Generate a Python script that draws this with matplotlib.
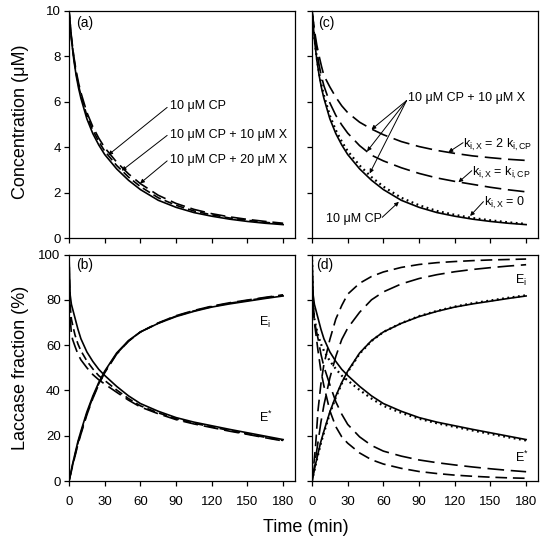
import matplotlib
matplotlib.use("Agg")
import matplotlib.pyplot as plt

plt.rcParams['font.family'] = ['Liberation Sans', 'DejaVu Sans']
plt.rcParams['mathtext.fontset'] = 'custom'
plt.rcParams['mathtext.rm'] = 'Liberation Sans'
plt.rcParams['mathtext.it'] = 'Liberation Sans:italic'

# ---------------- data ----------------
T_CONC = [0, 2, 4, 6, 8, 10, 15, 20, 25, 30, 40, 50, 60, 75, 90, 105, 120, 135, 150, 165, 180]
CP_ONLY = [10, 8.75, 7.85, 7.15, 6.6, 6.15, 5.25, 4.6, 4.1, 3.68, 3.05, 2.55, 2.14, 1.67, 1.36, 1.13, 0.97, 0.84, 0.74, 0.66, 0.6]
CP_X10 = [10, 8.8, 7.93, 7.25, 6.72, 6.28, 5.39, 4.75, 4.25, 3.83, 3.2, 2.69, 2.27, 1.78, 1.45, 1.2, 1.03, 0.89, 0.79, 0.7, 0.63]
CP_X20 = [10, 8.85, 8.0, 7.35, 6.83, 6.4, 5.53, 4.9, 4.4, 3.98, 3.35, 2.83, 2.4, 1.89, 1.53, 1.27, 1.08, 0.94, 0.83, 0.74, 0.66]
CP_K_EQ = [10, 9.0, 8.25, 7.6, 7.1, 6.7, 5.95, 5.4, 4.98, 4.62, 4.07, 3.65, 3.4, 3.1, 2.85, 2.65, 2.5, 2.37, 2.24, 2.13, 2.04]
CP_K_2X = [10, 9.15, 8.5, 8.0, 7.55, 7.15, 6.65, 6.2, 5.82, 5.52, 5.1, 4.8, 4.55, 4.25, 4.03, 3.86, 3.73, 3.62, 3.54, 3.47, 3.42]

T_FRAC = [0, 0.5, 1, 2, 3, 5, 7.5, 10, 15, 20, 25, 30, 40, 50, 60, 75, 90, 105, 120, 135, 150, 165, 180]
ESTAR_CP = [100, 88, 82, 78, 76, 72, 67, 62.8, 57, 52.8, 49.3, 46.6, 41.8, 37.6, 34.2, 30.8, 28, 26, 24.4, 22.8, 21.3, 19.8, 18.3]
ESTAR_X10 = [100, 85, 77, 71.5, 69, 64.5, 60.5, 57.5, 53, 49.5, 46.5, 44.4, 40.2, 36.4, 33.2, 30.1, 27.5, 25.5, 23.9, 22.3, 20.8, 19.3, 17.9]
ESTAR_X20 = [100, 82, 72, 65, 62.5, 59.5, 56, 53.5, 50, 47, 44.7, 42.8, 39.2, 35.7, 32.7, 29.7, 27.1, 25.2, 23.6, 22.0, 20.6, 19.1, 17.7]
EI_CP = [0, 1.3, 2.6, 5, 7.5, 12, 17.5, 22, 30.5, 37.5, 43.5, 48.5, 56.5, 62, 65.8, 69.6, 72.6, 74.9, 76.8, 78.2, 79.4, 80.6, 81.7]
EI_X10 = [0, 1.2, 2.4, 4.7, 7.1, 11.4, 16.8, 21.3, 29.8, 36.9, 43, 48.1, 56.2, 61.8, 65.8, 69.7, 72.8, 75.1, 77.0, 78.5, 79.7, 80.9, 82.0]
EI_X20 = [0, 1.1, 2.2, 4.4, 6.7, 10.9, 16.2, 20.7, 29.2, 36.4, 42.6, 47.8, 56.0, 61.7, 65.8, 69.8, 73.0, 75.3, 77.2, 78.7, 79.9, 81.1, 82.2]
ESTAR_K_EQ = [100, 85, 77, 71, 68, 63, 56, 50.5, 42.5, 35, 29.5, 25, 19.5, 15.7, 13.2, 11.0, 9.3, 8.1, 7.1, 6.2, 5.4, 4.7, 4.1]
ESTAR_K_2X = [100, 85, 77, 70, 66, 57.7, 48.5, 42, 31, 24, 19.5, 16.7, 12.4, 9.4, 7.5, 5.6, 4.2, 3.3, 2.6, 2.1, 1.7, 1.4, 1.2]
EI_K_EQ = [0, 1.5, 3, 6.5, 10, 17, 26, 33.5, 45.5, 55, 62.5, 67.5, 74.5, 80, 83.5, 87, 89.4, 91.1, 92.4, 93.4, 94.2, 94.9, 95.5]
EI_K_2X = [0, 2, 4.5, 10, 15.5, 31, 43, 51.5, 62.5, 71.5, 77.5, 82.5, 87.3, 90.3, 92.3, 94.3, 95.6, 96.4, 96.9, 97.3, 97.6, 97.8, 98.0]

X_TICKS = [0, 30, 60, 90, 120, 150, 180]
CONC_TICKS = [0, 2, 4, 6, 8, 10]
FRAC_TICKS = [0, 20, 40, 60, 80, 100]

# ---------------- styles ----------------
SOLID = dict(color='black', lw=1.2, ls='-')
DASH = dict(color='black', lw=1.2, ls=(0, (5, 2.5)))
LDASH = dict(color='black', lw=1.2, ls=(0, (9, 3.5)))
DOT = dict(color='black', lw=1.6, ls=(0, (0.8, 1.6)))
SDASH_D = dict(color='black', lw=1.2, ls=(0, (7, 3.5)))
LDASH_D = dict(color='black', lw=1.2, ls=(0, (10, 4)))

fig = plt.figure(figsize=(5.5, 5.45), dpi=100)
ax_a = fig.add_axes([0.1255, 0.5628, 0.4109, 0.4176])
ax_b = fig.add_axes([0.1255, 0.1174, 0.4109, 0.4156])
ax_c = fig.add_axes([0.5673, 0.5628, 0.4109, 0.4176])
ax_d = fig.add_axes([0.5673, 0.1174, 0.4109, 0.4156])

for ax in (ax_a, ax_b, ax_c, ax_d):
    ax.set_xlim(0, 190)
    ax.set_xticks(X_TICKS)
    for s in ax.spines.values():
        s.set_linewidth(0.9)
    ax.tick_params(direction='out', length=3.5, width=0.9, labelsize=9.5)
    ax.tick_params(axis='x', pad=7)
    ax.tick_params(axis='y', pad=2.5)

for ax in (ax_a, ax_c):
    ax.set_ylim(0, 10)
    ax.set_yticks(CONC_TICKS)
    ax.set_xticklabels([])
for ax in (ax_b, ax_d):
    ax.set_ylim(0, 100)
    ax.set_yticks(FRAC_TICKS)
for ax in (ax_c, ax_d):
    ax.set_yticklabels([])

# (a)
ax_a.plot(T_CONC, CP_X20, **LDASH)
ax_a.plot(T_CONC, CP_X10, **DASH)
ax_a.plot(T_CONC, CP_ONLY, **SOLID)
arrow = dict(arrowstyle='-|>', lw=0.7, color='black', mutation_scale=6, shrinkA=0, shrinkB=0)
fs = 9
ax_a.annotate('', xy=(33, 3.66), xytext=(82.5, 5.75), arrowprops=arrow)
ax_a.annotate('', xy=(44.3, 2.97), xytext=(82.5, 4.52), arrowprops=arrow)
ax_a.annotate('', xy=(59.7, 2.41), xytext=(82.5, 3.4), arrowprops=arrow)
ax_a.text(84.5, 5.81, '10 μM CP', fontsize=fs, ha='left', va='center')
ax_a.text(84.5, 4.54, '10 μM CP + 10 μM X', fontsize=fs, ha='left', va='center')
ax_a.text(84.5, 3.44, '10 μM CP + 20 μM X', fontsize=fs, ha='left', va='center')
ax_a.text(0.031, 0.945, '(a)', transform=ax_a.transAxes, fontsize=10, ha='left', va='center')

# (b)
ax_b.plot(T_FRAC, ESTAR_X20, **LDASH)
ax_b.plot(T_FRAC, ESTAR_X10, **DASH)
ax_b.plot(T_FRAC, ESTAR_CP, **SOLID)
ax_b.plot(T_FRAC, EI_X20, **LDASH)
ax_b.plot(T_FRAC, EI_X10, **DASH)
ax_b.plot(T_FRAC, EI_CP, **SOLID)
ax_b.text(160, 70.2, r'E$_{\mathrm{i}}$', fontsize=fs, ha='left', va='center')
ax_b.text(159.5, 28, r'E$^{*}$', fontsize=fs, ha='left', va='center')
ax_b.text(0.031, 0.954, '(b)', transform=ax_b.transAxes, fontsize=10, ha='left', va='center')

# (c)
ax_c.plot(T_CONC, CP_K_2X, **LDASH_D)
ax_c.plot(T_CONC, CP_K_EQ, **LDASH_D)
ax_c.plot(T_CONC, CP_X10, **DOT)
ax_c.plot(T_CONC, CP_ONLY, **SOLID)
for tip in [(50, 4.78), (46.3, 3.82), (48.5, 2.85)]:
    ax_c.annotate('', xy=tip, xytext=(79.5, 6.05), arrowprops=arrow)
ax_c.text(81, 6.15, '10 μM CP + 10 μM X', fontsize=fs, ha='left', va='center')
ax_c.annotate('', xy=(114.7, 3.78), xytext=(127, 4.2), arrowprops=arrow)
ax_c.text(127.3, 4.12, r'$\mathrm{k_{i,X}}$ = 2 $\mathrm{k_{i,CP}}$', fontsize=fs, ha='left', va='center')
ax_c.annotate('', xy=(123.1, 2.46), xytext=(134.3, 2.97), arrowprops=arrow)
ax_c.text(134.6, 2.87, r'$\mathrm{k_{i,X}}$ = $\mathrm{k_{i,CP}}$', fontsize=fs, ha='left', va='center')
ax_c.annotate('', xy=(132.9, 0.98), xytext=(144.1, 1.61), arrowprops=arrow)
ax_c.text(144.4, 1.56, r'$\mathrm{k_{i,X}}$ = 0', fontsize=fs, ha='left', va='center')
ax_c.annotate('', xy=(73, 1.6), xytext=(59, 0.92), arrowprops=arrow)
ax_c.text(58.5, 0.85, '10 μM CP', fontsize=fs, ha='right', va='center')
ax_c.text(0.028, 0.945, '(c)', transform=ax_c.transAxes, fontsize=10, ha='left', va='center')

# (d)
ax_d.plot(T_FRAC, ESTAR_K_2X, **SDASH_D)
ax_d.plot(T_FRAC, ESTAR_K_EQ, **LDASH_D)
ax_d.plot(T_FRAC, EI_K_2X, **SDASH_D)
ax_d.plot(T_FRAC, EI_K_EQ, **LDASH_D)
ax_d.plot(T_FRAC, ESTAR_X10, **DOT)
ax_d.plot(T_FRAC, EI_X10, **DOT)
ax_d.plot(T_FRAC, ESTAR_CP, **SOLID)
ax_d.plot(T_FRAC, EI_CP, **SOLID)
ax_d.text(170.5, 88.5, r'E$_{\mathrm{i}}$', fontsize=fs, ha='left', va='center')
ax_d.text(170.5, 10.5, r'E$^{*}$', fontsize=fs, ha='left', va='center')
ax_d.text(0.02, 0.954, '(d)', transform=ax_d.transAxes, fontsize=10, ha='left', va='center')

fig.text(21 / 550, 1 - 122 / 545, 'Concentration (μM)', rotation=90, ha='center', va='center', fontsize=13)
fig.text(21 / 550, 1 - 368 / 545, 'Laccase fraction (%)', rotation=90, ha='center', va='center', fontsize=13)
fig.text(306 / 550, 1 - 527 / 545, 'Time (min)', ha='center', va='center', fontsize=13)

fig.savefig('out.png', dpi=100)
